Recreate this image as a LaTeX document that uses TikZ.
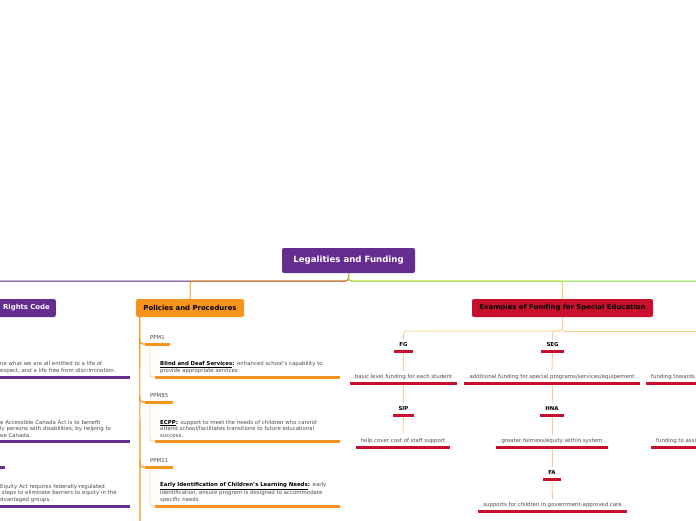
\documentclass[tikz,border=0pt]{standalone}
\usepackage{fontspec}
\setmainfont{DejaVu Sans}
\usepackage{tikz}
\usetikzlibrary{positioning, calc}
\definecolor{MMpurple}{HTML}{662D91}
\definecolor{MMorange}{HTML}{F7941D}
\definecolor{MMred}{HTML}{C8102E}
\definecolor{MMgreen}{HTML}{8CDD3A}
\definecolor{MMpale}{HTML}{FFCD88}
\definecolor{MMtext}{HTML}{4D4D4D}
\newcommand{\itemhead}[1]{\textcolor{black}{\underline{\textbf{#1}}\textbf{:}}}

\begin{document}
\begin{tikzpicture}[x=1pt, y=-1pt,
  mainbox/.style={rounded corners=2pt, minimum height=18pt, inner xsep=6pt,
    font=\fontsize{6.9}{8}\selectfont\bfseries},
  item/.style={inner xsep=5pt, inner ysep=3pt, text=MMtext, align=left,
    font=\fontsize{5.4}{6.8}\selectfont},
  oneline/.style={item, text height=4.1pt, text depth=1.2pt},
  tag/.style={oneline, text=black, font=\fontsize{5.4}{6.8}\selectfont\bfseries},
  pbar/.style={line width=3pt, MMpurple},
  obar/.style={line width=3pt, MMorange},
  rbar/.style={line width=3pt, MMred},
  link/.style={line width=0.8pt, MMpale, rounded corners=3pt},
  branch/.style={line width=1pt, rounded corners=3pt}
]
  \useasboundingbox (0,0) rectangle (696,520);
  \clip (0,0) rectangle (696,520);
  \fill[white] (0,0) rectangle (696,520);

  % Main topics
  \node[mainbox, fill=MMpurple, text=white, minimum width=133pt, minimum height=25pt,
    font=\fontsize{8.6}{10}\selectfont\bfseries] (root) at (348.5,260.5) {Legalities and Funding};
  \node[mainbox, fill=MMpurple, text=white, text width=120pt, align=right,
    anchor=east] (rights) at (56,308) {Rights Code};
  \node[mainbox, fill=MMorange, minimum width=108pt] (pp) at (190,308) {Policies and Procedures};
  \node[mainbox, fill=MMred, minimum width=181pt] (ex) at (562.5,308)
    {Examples of Funding for Special Education};

  % Rights Code (left, cut off)
  \node[item, text width=125pt, anchor=south west] (hr1) at (-5,377)
    {ne what we are all entitled to a life of\\espect, and a life free from discrimination.};
  \node[item, text width=125pt, anchor=south west] (hr2) at (-5,441)
    {e Accessible Canada Act is to benefit\\ly persons with disabilities, by helping to\\ee Canada.};
  \node[item, text width=125pt, anchor=south west] (hr3) at (-5,506)
    {Equity Act requires federally-regulated\\\hspace{1.5pt}steps to eliminate barriers to equity in the\\dvantaged groups.};
  \coordinate (rlab) at (5,467);
  \coordinate (rlabw) at (-20,467);

  % Policies and Procedures
  \node[oneline, anchor=south west] (ppm1) at (145,344) {PPM1};
  \node[item, text width=175pt, anchor=south west] (blind) at (155,377)
    {\itemhead{Blind and Deaf Services} enhanced school's capability to\\provide appropriate services};
  \node[oneline, anchor=south west] (ppm85) at (145,402) {PPM85};
  \node[item, text width=175pt, anchor=south west] (ecpp) at (155,441)
    {\itemhead{ECPP} support to meet the needs of children who cannot\\attend school/facilitates transitions to future educational\\success.};
  \node[oneline, anchor=south west] (ppm11) at (145,467) {PPM11};
  \node[item, text width=175pt, anchor=south west] (early) at (155,506)
    {\itemhead{Early Identification of Children's Learning Needs} early\\identification, ensure program is designed to accommodate\\specific needs};

  % Examples of Funding
  \node[tag, anchor=south] (fg) at (403.5,351) {FG};
  \node[oneline, anchor=south] (basic) at (403.5,383) {basic level funding for each student};
  \node[tag, anchor=south] (sip) at (403.5,415) {SIP};
  \node[oneline, anchor=south] (staff) at (403,447) {help cover cost of staff support};
  \node[tag, anchor=south] (seg) at (552.5,351) {SEG};
  \node[oneline, anchor=south] (addl) at (552,383)
    {additional funding for special programs/services/equipement};
  \node[tag, anchor=south] (hna) at (552,415) {HNA};
  \node[oneline, anchor=south] (fair) at (552,447) {greater fairness/equity within system};
  \node[tag, anchor=south] (fa) at (552,479) {FA};
  \node[oneline, anchor=south] (care) at (552.5,511) {supports for children in government-approved care};
  \node[oneline, anchor=south west] (tow) at (646,383) {funding towards};
  \node[oneline, anchor=south west] (assi) at (651,447) {funding to assi};

  % Branch lines
  \coordinate (hub) at (348.5,281);
  \coordinate (eastend) at (700,281);
  \draw[branch, MMpurple!85!black] (root.south) -- (hub) -| (rights.north);
  \draw[branch, MMorange] (root.south) -- (hub) -| (pp.north);
  \draw[branch, MMorange!70!yellow!70] (root.south) -- (hub) -| (ex.north);
  \draw[branch, MMgreen] (root.south) -- (hub) -- (eastend);

  % Policies spine
  \coordinate (spine) at ([xshift=4pt]pp.south west);
  \coordinate (spineend) at (140,530);
  \draw[MMorange, line width=1.2pt] (spine) -- (spineend);
  \draw[MMorange, line width=1.2pt, rounded corners=3pt] ($(spine |- ppm1.south)+(0,-6)$) |- (ppm1.south west);
  \draw[MMorange, line width=1.2pt, rounded corners=3pt] ($(spine |- ppm85.south)+(0,-6)$) |- (ppm85.south west);
  \draw[MMorange, line width=1.2pt, rounded corners=3pt] ($(spine |- ppm11.south)+(0,-6)$) |- (ppm11.south west);
  \draw[link] ([xshift=5pt]ppm1.south west) |- (blind.south west);
  \draw[link] ([xshift=5pt]ppm85.south west) |- (ecpp.south west);
  \draw[link] ([xshift=5pt]ppm11.south west) |- (early.south west);

  % Examples links
  \coordinate (split) at (562.5,331);
  \coordinate (splitend) at (700,331);
  \draw[link] (ex.south) -- (split) -| (fg.north);
  \draw[link] (ex.south) -- (split) -| (seg.north);
  \draw[link] (split) -- (splitend);
  \draw[link] (fg.south) -- (basic.north);
  \draw[link] (basic.south) -- (sip.north);
  \draw[link] (sip.south) -- (staff.north);
  \draw[link] (seg.south) -- (addl.north);
  \draw[link] (addl.south) -- (hna.north);
  \draw[link] (hna.south) -- (fair.north);
  \draw[link] (fair.south) -- (fa.north);
  \draw[link] (fa.south) -- (care.north);

  % Bars
  \draw[pbar] (hr1.south west) -- (hr1.south east);
  \draw[pbar] (hr2.south west) -- (hr2.south east);
  \draw[pbar] (rlabw) -- (rlab);
  \draw[pbar] (hr3.south west) -- (hr3.south east);
  \draw[obar] (ppm1.south west) -- (ppm1.south east);
  \draw[obar] (blind.south west) -- (blind.south east);
  \draw[obar] (ppm85.south west) -- (ppm85.south east);
  \draw[obar] (ecpp.south west) -- (ecpp.south east);
  \draw[obar] (ppm11.south west) -- (ppm11.south east);
  \draw[obar] (early.south west) -- (early.south east);
  \draw[rbar] (fg.south west) -- (fg.south east);
  \draw[rbar] (basic.south west) -- (basic.south east);
  \draw[rbar] (sip.south west) -- (sip.south east);
  \draw[rbar] (staff.south west) -- (staff.south east);
  \draw[rbar] (seg.south west) -- (seg.south east);
  \draw[rbar] (addl.south west) -- (addl.south east);
  \draw[rbar] (hna.south west) -- (hna.south east);
  \draw[rbar] (fair.south west) -- (fair.south east);
  \draw[rbar] (fa.south west) -- (fa.south east);
  \draw[rbar] (care.south west) -- (care.south east);
  \draw[rbar] (tow.south west) -- (tow.south -| splitend);
  \draw[rbar] (assi.south west) -- (assi.south -| splitend);
\end{tikzpicture}
\end{document}
